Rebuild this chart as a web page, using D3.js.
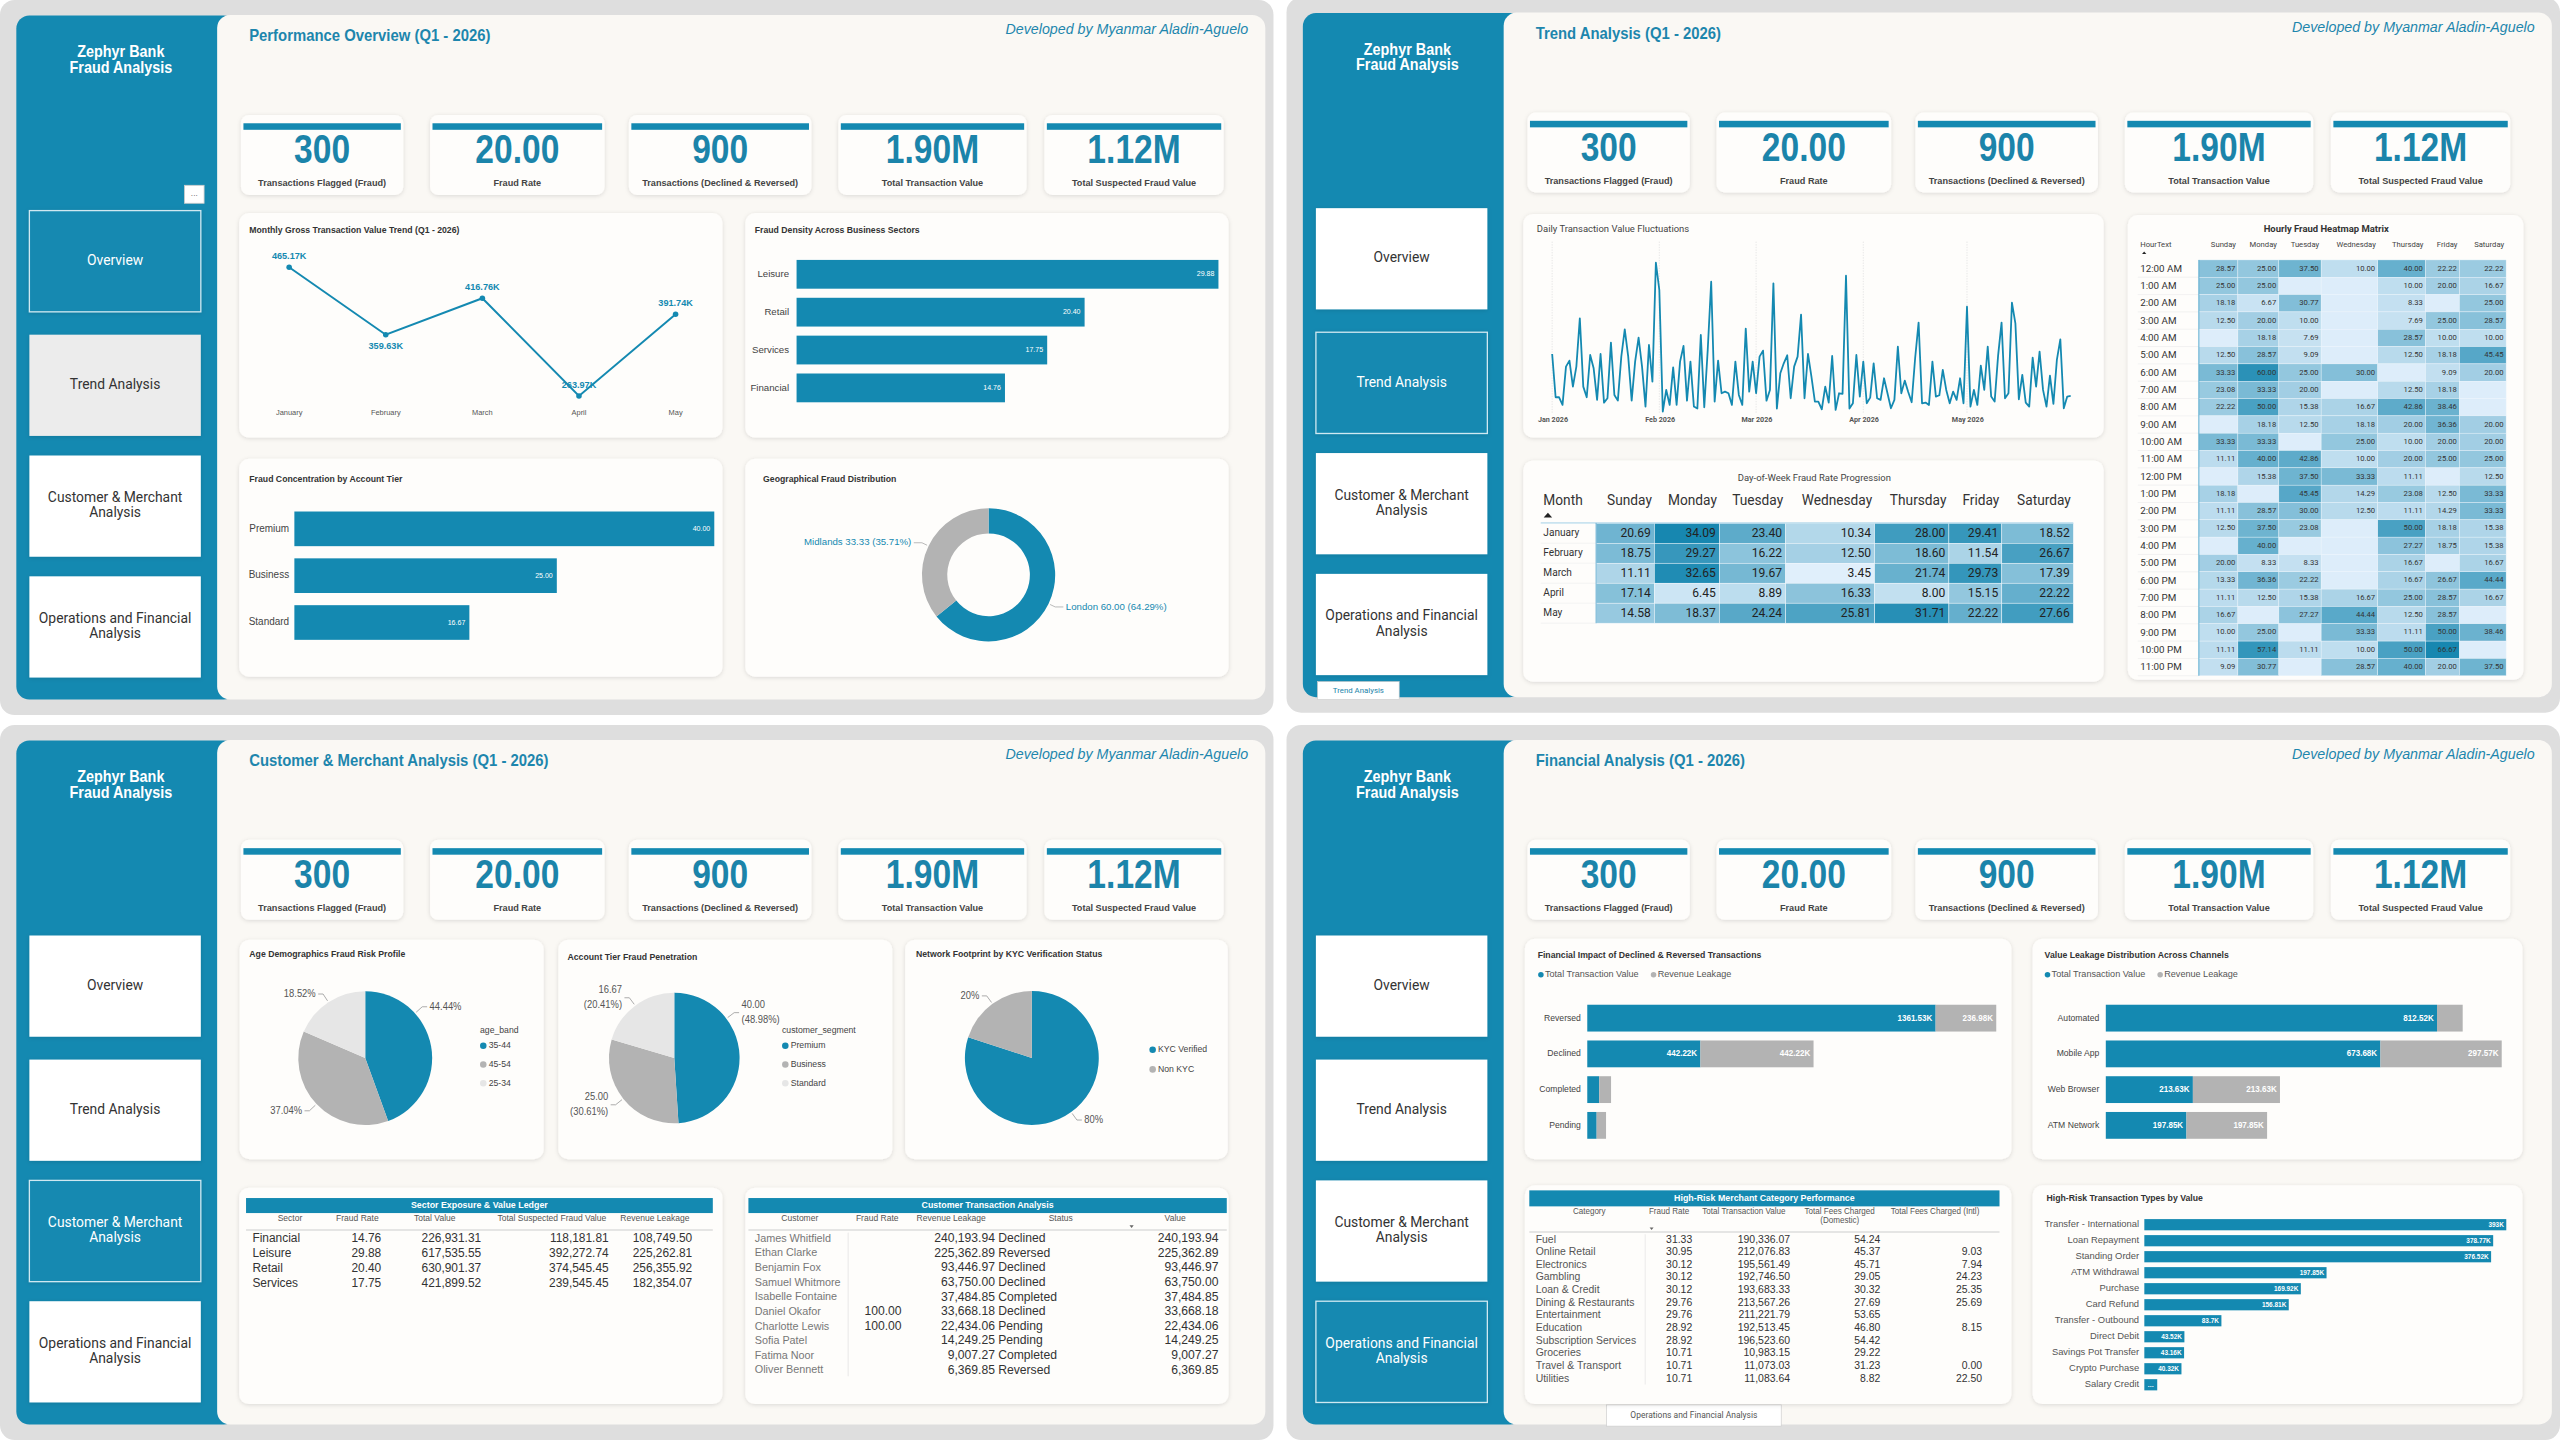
<!DOCTYPE html>
<html>
<head>
<meta charset="utf-8">
<script src="https://cdn.jsdelivr.net/npm/d3@7"></script>
<style>
  html, body { margin: 0; padding: 0; background: #ffffff; }
  svg { display: block; }
</style>
</head>
<body>
<script>
// ---------- data ----------
const kpiValues = ["300", "20.00", "900", "1.90M", "1.12M"];
const kpiLabels = ["Transactions Flagged (Fraud)", "Fraud Rate", "Transactions (Declined & Reversed)", "Total Transaction Value", "Total Suspected Fraud Value"];
const navItems = [["Overview"], ["Trend Analysis"], ["Customer & Merchant", "Analysis"], ["Operations and Financial", "Analysis"]];

const months = ["January", "February", "March", "April", "May"];
const monthlyValue = [465.17, 359.63, 416.76, 263.97, 391.74];

const sectors = ["Leisure", "Retail", "Services", "Financial"];
const sectorFraudRate = [29.88, 20.40, 17.75, 14.76];

const tiers = ["Premium", "Business", "Standard"];
const tierFraudRate = [40.00, 25.00, 16.67];

const regions = ["London", "Midlands"];
const regionFraudRate = [60.00, 33.33];

// daily transaction value (K), 1 Jan - 31 May 2026
const dailyValue = [
  20.8, 7.8, 7.8, 5.5, 17, 18.8, 11, 17, 31.5, 11,
  7.8, 20.5, 16.5, 7, 20.8, 6.2, 7.5, 24.2, 8.5, 6.8,
  20, 28.2, 20, 6.8, 18.5, 25.7, 17, 5, 23.5, 12.5,
  48.2, 40, 3.5, 10, 5.5, 16.8, 5.5, 18.5, 23.2, 6.8,
  18.5, 5, 4.4, 26.5, 4.8, 22, 42.5, 6.5, 18.8, 9,
  9.5, 9, 5.5, 18.5, 8.5, 5.5, 28.4, 9.5, 18.5, 9,
  20, 21.8, 6.8, 10, 42, 4.4, 15, 18, 20.4, 7.5,
  17, 20, 32.6, 7.5, 20.8, 14, 6.5, 6.5, 4.2, 11,
  6.2, 20.2, 4, 9, 8.8, 44.3, 4.4, 6, 20.5, 8,
  18.5, 6, 7.7, 18, 7.5, 7, 13.5, 9, 4.5, 7,
  23, 9, 12.8, 9.4, 6.3, 19.5, 30.2, 6, 6.2, 5.5,
  18.5, 8, 8.4, 16, 10, 6, 9.5, 7, 13.5, 6,
  35, 5, 10, 5.5, 17.3, 10, 23, 8, 6.5, 20.3,
  30.2, 7.5, 9, 36.2, 30, 7.2, 14.5, 6.2, 5, 19.7,
  11, 21.5, 10, 5, 14.3, 5.8, 19, 25.2, 4.5, 8,
  8.2
];

const weekdays = ["Sunday", "Monday", "Tuesday", "Wednesday", "Thursday", "Friday", "Saturday"];
const dowRates = [
  [20.69, 34.09, 23.40, 10.34, 28.00, 29.41, 18.52],
  [18.75, 29.27, 16.22, 12.50, 18.60, 11.54, 26.67],
  [11.11, 32.65, 19.67, 3.45, 21.74, 29.73, 17.39],
  [17.14, 6.45, 8.89, 16.33, 8.00, 15.15, 22.22],
  [14.58, 18.37, 24.24, 25.81, 31.71, 22.22, 27.66]
];

const hours = ["12:00 AM", "1:00 AM", "2:00 AM", "3:00 AM", "4:00 AM", "5:00 AM", "6:00 AM", "7:00 AM", "8:00 AM", "9:00 AM", "10:00 AM", "11:00 AM",
  "12:00 PM", "1:00 PM", "2:00 PM", "3:00 PM", "4:00 PM", "5:00 PM", "6:00 PM", "7:00 PM", "8:00 PM", "9:00 PM", "10:00 PM", "11:00 PM"];
const hourlyRates = [
  [28.57, 25.00, 37.50, 10.00, 40.00, 22.22, 22.22],
  [25.00, 25.00, null, null, 10.00, 20.00, 16.67],
  [18.18, 6.67, 30.77, null, 8.33, null, 25.00],
  [12.50, 20.00, 10.00, null, 7.69, 25.00, 28.57],
  [null, 18.18, 7.69, null, 28.57, 10.00, 10.00],
  [12.50, 28.57, 9.09, null, 12.50, 18.18, 45.45],
  [33.33, 60.00, 25.00, 30.00, null, 9.09, 20.00],
  [23.08, 33.33, 20.00, null, 12.50, 18.18, null],
  [22.22, 50.00, 15.38, 16.67, 42.86, 38.46, null],
  [null, 18.18, 12.50, 18.18, 20.00, 36.36, 20.00],
  [33.33, 33.33, null, 25.00, 10.00, 20.00, 20.00],
  [11.11, 40.00, 42.86, 10.00, 20.00, 25.00, 25.00],
  [null, 15.38, 37.50, 33.33, 11.11, null, 12.50],
  [18.18, null, 45.45, 14.29, 23.08, 12.50, 33.33],
  [11.11, 28.57, 30.00, 12.50, 11.11, 14.29, 33.33],
  [12.50, 37.50, 23.08, null, 50.00, 18.18, 15.38],
  [null, 40.00, null, null, 27.27, 18.75, 15.38],
  [20.00, 8.33, 8.33, null, 16.67, null, 16.67],
  [13.33, 36.36, 22.22, null, 16.67, 26.67, 44.44],
  [11.11, 12.50, 15.38, 16.67, 25.00, 28.57, 16.67],
  [16.67, null, 27.27, 44.44, 12.50, 28.57, null],
  [10.00, 25.00, null, 33.33, 11.11, 50.00, 38.46],
  [11.11, 57.14, 11.11, 10.00, 50.00, 66.67, null],
  [9.09, 30.77, null, 28.57, 40.00, 20.00, 37.50]
];

const ageBands = ["35-44", "45-54", "25-34"];
const agePct = [44.44, 37.04, 18.52];
const segments = ["Premium", "Business", "Standard"];
const segmentRate = [40.00, 25.00, 16.67];
const segmentPct = [48.98, 30.61, 20.41];
const kycStatus = ["KYC Verified", "Non KYC"];
const kycPct = [80, 20];

const ledgerSector = ["Financial", "Leisure", "Retail", "Services"];
const ledgerFraudRate = [14.76, 29.88, 20.40, 17.75];
const ledgerTotalValue = [226931.31, 617535.55, 630901.37, 421899.52];
const ledgerSuspected = [118181.81, 392272.74, 374545.45, 239545.45];
const ledgerLeakage = [108749.50, 225262.81, 256355.92, 182354.07];

const customerNames = ["James Whitfield", "Ethan Clarke", "Benjamin Fox", "Samuel Whitmore", "Isabelle Fontaine", "Daniel Okafor", "Charlotte Lewis", "Sofia Patel", "Fatima Noor", "Oliver Bennett"];
const customerFraudRate = [null, null, null, null, null, 100.00, 100.00, null, null, null];
const customerLeakage = [240193.94, 225362.89, 93446.97, 63750.00, 37484.85, 33668.18, 22434.06, 14249.25, 9007.27, 6369.85];
const customerStatus = ["Declined", "Reversed", "Declined", "Declined", "Completed", "Declined", "Pending", "Pending", "Completed", "Reversed"];
const customerValue = [240193.94, 225362.89, 93446.97, 63750.00, 37484.85, 33668.18, 22434.06, 14249.25, 9007.27, 6369.85];

const txnStatus = ["Reversed", "Declined", "Completed", "Pending"];
const statusTotalValue = [1361.53, 442.22, 46.49, 36.68];
const statusLeakage = [236.98, 442.22, 46.49, 36.68];

const channels = ["Automated", "Mobile App", "Web Browser", "ATM Network"];
const channelTotalValue = [812.52, 673.68, 213.63, 197.85];
const channelLeakage = [63.0, 297.57, 213.63, 197.85];

const merchantCategory = ["Fuel", "Online Retail", "Electronics", "Gambling", "Loan & Credit", "Dining & Restaurants", "Entertainment", "Education", "Subscription Services", "Groceries", "Travel & Transport", "Utilities"];
const merchantFraudRate = [31.33, 30.95, 30.12, 30.12, 30.12, 29.76, 29.76, 28.92, 28.92, 10.71, 10.71, 10.71];
const merchantTotalValue = [190336.07, 212076.83, 195561.49, 192746.50, 193683.33, 213567.26, 211221.79, 192513.45, 196523.60, 10983.15, 11073.03, 11083.64];
const merchantFeeDomestic = [54.24, 45.37, 45.71, 29.05, 30.32, 27.69, 53.65, 46.80, 54.42, 29.22, 31.23, 8.82];
const merchantFeeIntl = [null, 9.03, 7.94, 24.23, 25.35, 25.69, null, 8.15, null, null, 0.00, 22.50];

const txnTypes = ["Transfer - International", "Loan Repayment", "Standing Order", "ATM Withdrawal", "Purchase", "Card Refund", "Transfer - Outbound", "Direct Debit", "Savings Pot Transfer", "Crypto Purchase", "Salary Credit"];
const txnTypeValue = [393, 378.77, 376.52, 197.85, 169.92, 156.81, 83.7, 43.52, 43.16, 40.32, 14];

// ---------- setup ----------
const BLUE = "#1489b1", GREY = "#b3b3b3", LIGHT = "#e6e6e6", TITLEBLUE = "#1d86ad";
const NARROW = "'Liberation Sans',Arial,sans-serif";
const DIN = "Roboto,'Noto Sans',sans-serif";

const svg = d3.select("body").append("svg")
  .attr("width", 2560).attr("height", 1440)
  .attr("viewBox", "0 0 1568 882");

const defs = svg.append("defs");
defs.append("filter").attr("id", "shadow")
  .attr("x", "-10%").attr("y", "-10%").attr("width", "120%").attr("height", "130%")
  .append("feDropShadow")
  .attr("dx", 0).attr("dy", 0.6).attr("stdDeviation", 1.2)
  .attr("flood-color", "#000").attr("flood-opacity", 0.13);

// text helper; o.sx squeezes the glyphs horizontally (condensed look)
function txt(g, x, y, s, o = {}) {
  const t = g.append("text").text(s)
    .attr("font-family", o.font || NARROW)
    .attr("font-size", o.size || 5)
    .attr("font-weight", o.weight || "normal")
    .attr("font-style", o.style || "normal")
    .attr("fill", o.fill || "#333")
    .attr("text-anchor", o.anchor || "start")
    .attr("dominant-baseline", o.base || "middle");
  if (o.sx) t.attr("x", 0).attr("y", 0).attr("transform", `translate(${x},${y}) scale(${o.sx},1)`);
  else t.attr("x", x).attr("y", y);
  return t;
}

function card(x, y, w, h) {
  svg.append("rect").attr("x", x).attr("y", y).attr("width", w).attr("height", h)
    .attr("rx", 6).attr("fill", "#fefdfb").attr("filter", "url(#shadow)");
}

const fmt2 = d3.format(".2f");
const fmtNum = d3.format(",.2f");
const fmtK = d => (+d.toFixed(2)) + "K";

// ---------- panel frames ----------
const panels = [
  { ox: 0, oy: 0, title: "Performance Overview (Q1 - 2026)", sel: 0, hover: 1 },
  { ox: 788, oy: -1.5, title: "Trend Analysis (Q1 - 2026)", sel: 1, hover: -1 },
  { ox: 0, oy: 444, title: "Customer & Merchant Analysis (Q1 - 2026)", sel: 2, hover: -1 },
  { ox: 788, oy: 444, title: "Financial Analysis (Q1 - 2026)", sel: 3, hover: -1 }
];
const kpiX = [147.6, 263.4, 385.2, 513.5, 639.7];
const kpiW = [99.4, 106.9, 111.8, 115.3, 109.8];
const navY = [129, 205, 279, 353];

panels.forEach(p => {
  const g = svg.append("g").attr("transform", `translate(${p.ox},${p.oy})`);
  g.append("rect").attr("x", 0).attr("y", 0).attr("width", 780).attr("height", 438).attr("rx", 9).attr("fill", "#dedede");
  g.append("rect").attr("x", 10).attr("y", 9.5).attr("width", 135).attr("height", 419).attr("rx", 8).attr("fill", BLUE);
  g.append("rect").attr("x", 133).attr("y", 9.2).attr("width", 642).attr("height", 419.3).attr("rx", 8).attr("fill", "#faf8f4");

  txt(g, 74, 32.3, "Zephyr Bank", { size: 9.8, weight: "bold", fill: "#fff", anchor: "middle", sx: 0.9 });
  txt(g, 74, 42, "Fraud Analysis", { size: 9.8, weight: "bold", fill: "#fff", anchor: "middle", sx: 0.9 });

  navItems.forEach((lines, i) => {
    const sel = i === p.sel, hov = i === p.hover;
    g.append("rect").attr("x", 18).attr("y", navY[i]).attr("width", 105).attr("height", 62)
      .attr("fill", sel ? BLUE : (hov ? "#ececec" : "#ffffff"))
      .attr("stroke", sel ? "#cfe8f1" : "none").attr("stroke-width", 0.8)
      .attr("filter", "url(#shadow)");
    lines.forEach((l, k) => {
      txt(g, 70.5, navY[i] + 31 + (k - (lines.length - 1) / 2) * 9.4, l,
        { size: 8.5, font: DIN, fill: sel ? "#fff" : "#333", anchor: "middle" });
    });
  });

  txt(g, 152.6, 22.5, p.title, { size: 9.8, weight: "bold", fill: TITLEBLUE, sx: 0.93 });
  txt(g, 764.5, 18.5, "Developed by Myanmar Aladin-Aguelo", { size: 9.4, style: "italic", fill: TITLEBLUE, anchor: "end", sx: 0.93 });

  kpiValues.forEach((v, i) => {
    g.append("rect").attr("x", kpiX[i]).attr("y", 70.4).attr("width", kpiW[i]).attr("height", 49)
      .attr("rx", 5).attr("fill", "#fefdfb").attr("filter", "url(#shadow)");
    g.append("rect").attr("x", kpiX[i] + 1.5).attr("y", 75.5).attr("width", kpiW[i] - 3).attr("height", 4).attr("fill", BLUE);
    txt(g, kpiX[i] + kpiW[i] / 2, 93.5, v, { size: 24.5, weight: "bold", fill: "#1b84aa", anchor: "middle", sx: 0.84 });
    txt(g, kpiX[i] + kpiW[i] / 2, 112.5, kpiLabels[i], { size: 6.1, weight: "bold", fill: "#444", anchor: "middle", sx: 0.92 });
  });
});

// small decorations: more-options box and hover tooltips
svg.append("rect").attr("x", 113).attr("y", 113.5).attr("width", 12).attr("height", 11).attr("fill", "#fff").attr("stroke", "#ccc").attr("stroke-width", 0.5);
txt(svg, 119, 118.5, "...", { size: 5, fill: "#777", anchor: "middle" });
svg.append("rect").attr("x", 807).attr("y", 417.5).attr("width", 50).attr("height", 11).attr("fill", "#fff").attr("stroke", "#ccc").attr("stroke-width", 0.4);
txt(svg, 832, 423, "Trend Analysis", { size: 4.8, font: DIN, fill: "#1b84aa", anchor: "middle" });
svg.append("rect").attr("x", 984).attr("y", 860.5).attr("width", 107).attr("height", 13).attr("fill", "#fff").attr("stroke", "#ccc").attr("stroke-width", 0.4);
txt(svg, 1037.5, 867, "Operations and Financial Analysis", { size: 5.2, font: DIN, fill: "#555", anchor: "middle" });

// ================= Performance Overview =================
// monthly trend line
card(146.5, 130.5, 296, 137.5);
txt(svg, 152.7, 141.3, "Monthly Gross Transaction Value Trend (Q1 - 2026)", { size: 5.8, weight: "bold", sx: 0.92 });
const xM = d3.scalePoint().domain(months).range([177.1, 413.8]);
const yM = d3.scaleLinear().domain(d3.extent(monthlyValue)).range([242.5, 163.7]);
svg.append("path").datum(monthlyValue)
  .attr("d", d3.line().x((d, i) => xM(months[i])).y(d => yM(d)))
  .attr("fill", "none").attr("stroke", BLUE).attr("stroke-width", 1.2);
svg.selectAll("circle.mdot").data(monthlyValue).join("circle")
  .attr("cx", (d, i) => xM(months[i])).attr("cy", d => yM(d)).attr("r", 1.7).attr("fill", BLUE);
monthlyValue.forEach((d, i) => {
  // February's label sits under its point, the rest above
  const below = i === 1;
  txt(svg, xM(months[i]), yM(d) + (below ? 7.2 : -6.6), fmtK(d), { size: 5.9, weight: "bold", fill: BLUE, anchor: "middle", sx: 0.95 });
  txt(svg, xM(months[i]), 252.8, months[i], { size: 4.8, fill: "#555", anchor: "middle", sx: 0.95 });
});

// sector bars
card(456.5, 130.5, 296, 137.5);
txt(svg, 462.3, 141.3, "Fraud Density Across Business Sectors", { size: 5.8, weight: "bold", sx: 0.92 });
const yS = d3.scaleBand().domain(sectors).range([159.2, 246.4]).paddingInner(0.24);
const xS = d3.scaleLinear().domain([0, d3.max(sectorFraudRate)]).range([487.9, 746.3]);
sectors.forEach((s, i) => {
  svg.append("rect").attr("x", xS(0)).attr("y", yS(s)).attr("width", xS(sectorFraudRate[i]) - xS(0)).attr("height", yS.bandwidth()).attr("fill", BLUE);
  txt(svg, 483.3, yS(s) + yS.bandwidth() / 2, s, { size: 6.1, fill: "#444", anchor: "end", sx: 0.97 });
  txt(svg, xS(sectorFraudRate[i]) - 2.5, yS(s) + yS.bandwidth() / 2, fmt2(sectorFraudRate[i]), { size: 4.9, fill: "#fff", anchor: "end", sx: 0.88 });
});

// account tier bars
card(146.5, 281, 296, 133.5);
txt(svg, 152.7, 293.5, "Fraud Concentration by Account Tier", { size: 5.8, weight: "bold", sx: 0.92 });
const yT = d3.scaleBand().domain(tiers).range([313.3, 391.9]).paddingInner(0.26);
const xT = d3.scaleLinear().domain([0, d3.max(tierFraudRate)]).range([180.3, 437.5]);
tiers.forEach((s, i) => {
  svg.append("rect").attr("x", xT(0)).attr("y", yT(s)).attr("width", xT(tierFraudRate[i]) - xT(0)).attr("height", yT.bandwidth()).attr("fill", BLUE);
  txt(svg, 177.1, yT(s) + yT.bandwidth() / 2, s, { size: 6.3, fill: "#444", anchor: "end", sx: 0.97 });
  txt(svg, xT(tierFraudRate[i]) - 2.5, yT(s) + yT.bandwidth() / 2, fmt2(tierFraudRate[i]), { size: 4.9, fill: "#fff", anchor: "end", sx: 0.88 });
});

// geographic donut
card(456.5, 281, 296, 133.5);
txt(svg, 467.4, 293.5, "Geographical Fraud Distribution", { size: 5.8, weight: "bold", sx: 0.92 });
{
  const cx = 605.5, cy = 352.1, r = 40.8;
  const arcs = d3.pie().sort(null)(regionFraudRate);
  const total = d3.sum(regionFraudRate);
  svg.append("g").attr("transform", `translate(${cx},${cy})`)
    .selectAll("path").data(arcs).join("path")
    .attr("d", d3.arc().innerRadius(25.3).outerRadius(r))
    .attr("fill", (d, i) => i === 0 ? BLUE : GREY);
  arcs.forEach((a, i) => {
    const ang = (a.startAngle + a.endAngle) / 2;
    const sx = Math.sin(ang), sy = -Math.cos(ang);
    const right = sx >= 0;
    const p1 = [cx + sx * (r + 1), cy + sy * (r + 1)];
    const p2 = [cx + sx * (r + 4.5), cy + sy * (r + 4.5)];
    const p3 = [p2[0] + (right ? 5 : -5), p2[1]];
    svg.append("polyline").attr("points", [p1, p2, p3].join(" ")).attr("fill", "none").attr("stroke", "#aaa").attr("stroke-width", 0.5);
    txt(svg, p3[0] + (right ? 1.5 : -1.5), p3[1], `${regions[i]} ${fmt2(regionFraudRate[i])} (${fmt2(regionFraudRate[i] / total * 100)}%)`,
      { size: 6.1, fill: BLUE, anchor: right ? "start" : "end", sx: 0.97 });
  });
}

// ================= Trend Analysis =================
card(933, 131, 355.5, 137);
txt(svg, 941.3, 140.8, "Daily Transaction Value Fluctuations", { size: 5.8, font: DIN, fill: "#444" });
{
  const start = new Date(2026, 0, 1);
  const dates = dailyValue.map((d, i) => d3.timeDay.offset(start, i));
  const xD = d3.scaleTime().domain(d3.extent(dates)).range([950.7, 1268.3]);
  const yD = d3.scaleLinear().domain(d3.extent(dailyValue)).range([252.1, 160.9]);
  const ticks = d3.timeMonth.range(start, d3.timeDay.offset(dates[dates.length - 1], 1));
  svg.selectAll("line.dgrid").data(ticks).join("line")
    .attr("x1", d => xD(d)).attr("x2", d => xD(d)).attr("y1", 148).attr("y2", 253)
    .attr("stroke", "#e2e2e2").attr("stroke-width", 0.5).attr("stroke-dasharray", "0.8,0.8");
  svg.append("path").datum(dailyValue)
    .attr("d", d3.line().x((d, i) => xD(dates[i])).y(d => yD(d)))
    .attr("fill", "none").attr("stroke", BLUE).attr("stroke-width", 1.1).attr("stroke-linejoin", "round");
  const ax = svg.append("g").attr("transform", "translate(0,253)")
    .call(d3.axisBottom(xD).tickValues(ticks).tickFormat(d3.timeFormat("%b %Y")).tickSize(0).tickPadding(2.6));
  ax.select(".domain").remove();
  ax.selectAll("text").attr("font-family", DIN).attr("font-size", 4.4).attr("fill", "#555").attr("font-weight", "bold");
}

// day-of-week matrix
card(933, 282, 355.5, 135.5);
txt(svg, 1111.3, 293.3, "Day-of-Week Fraud Rate Progression", { size: 5.8, font: DIN, fill: "#444", anchor: "middle" });
{
  const edges = [977.6, 1013.3, 1053.1, 1093.7, 1148.2, 1193.7, 1226.1, 1269.9];
  const yR = d3.scaleBand().domain(months).range([320.5, 381.7]);
  const all = dowRates.flat();
  const col = d3.scaleLinear().domain(d3.extent(all)).range(["#e0effb", "#1787b0"]);
  txt(svg, 945.3, 307, "Month", { size: 8.4, font: DIN, fill: "#333" });
  svg.append("path").attr("d", "M945.5,317 l2.6,-3 l2.6,3 z").attr("fill", "#222");
  weekdays.forEach((w, j) => txt(svg, edges[j + 1] - 1.5, 307, w, { size: 8.4, font: DIN, fill: "#333", anchor: "end" }));
  months.forEach((m, i) => {
    txt(svg, 945.3, yR(m) + yR.bandwidth() / 2, m, { size: 6.2, font: DIN, fill: "#333" });
    svg.append("line").attr("x1", 943.7).attr("x2", 977.6).attr("y1", yR(m) + yR.bandwidth()).attr("y2", yR(m) + yR.bandwidth()).attr("stroke", "#eee").attr("stroke-width", 0.4);
    dowRates[i].forEach((v, j) => {
      svg.append("rect").attr("x", edges[j]).attr("y", yR(m)).attr("width", edges[j + 1] - edges[j]).attr("height", yR.bandwidth())
        .attr("fill", col(v)).attr("stroke", "#f4f9fd").attr("stroke-width", 0.3);
      txt(svg, edges[j + 1] - 2.2, yR(m) + yR.bandwidth() / 2 + 0.3, fmt2(v), { size: 7.4, font: DIN, fill: "#222", anchor: "end" });
    });
  });
  svg.append("line").attr("x1", 943.7).attr("x2", 1269.9).attr("y1", 320.3).attr("y2", 320.3).attr("stroke", "#9fcfe6").attr("stroke-width", 0.6);
  svg.append("line").attr("x1", 977.6).attr("x2", 977.6).attr("y1", 320.3).attr("y2", 381.7).attr("stroke", "#5aa9cf").attr("stroke-width", 0.5);
}

// hourly heatmap
card(1303.3, 131.7, 242.3, 284.7);
txt(svg, 1424.8, 140.8, "Hourly Fraud Heatmap Matrix", { size: 5.8, font: DIN, weight: "bold", fill: "#333", anchor: "middle" });
{
  const edges = [1346.8, 1370.7, 1395.8, 1421.7, 1456.4, 1485.6, 1506.4, 1535];
  const yH = d3.scaleBand().domain(hours).range([159.2, 413.9]);
  const all = hourlyRates.flat().filter(v => v !== null);
  const col = d3.scaleLinear().domain([0, d3.max(all)]).range(["#ddedfa", "#1787b0"]);
  txt(svg, 1310.9, 150.3, "HourText", { size: 4.7, font: DIN, fill: "#444" });
  svg.append("path").attr("d", "M1312,155.6 l1.3,-1.6 l1.3,1.6 z").attr("fill", "#222");
  weekdays.forEach((w, j) => txt(svg, edges[j + 1] - 1.2, 150.3, w, { size: 4.7, font: DIN, fill: "#444", anchor: "end" }));
  hours.forEach((h, i) => {
    const y0 = yH(h), bh = yH.bandwidth();
    txt(svg, 1310.9, y0 + bh / 2 + 0.4, h, { size: 6, font: DIN, fill: "#333" });
    svg.append("line").attr("x1", 1309.4).attr("x2", 1346.8).attr("y1", y0 + bh).attr("y2", y0 + bh).attr("stroke", "#ececec").attr("stroke-width", 0.4);
    hourlyRates[i].forEach((v, j) => {
      svg.append("rect").attr("x", edges[j]).attr("y", y0).attr("width", edges[j + 1] - edges[j]).attr("height", bh)
        .attr("fill", col(v === null ? 0 : v)).attr("stroke", "#eef6fc").attr("stroke-width", 0.25);
      if (v !== null) txt(svg, edges[j + 1] - 1.6, y0 + bh / 2, fmt2(v), { size: 4.7, font: DIN, fill: "#333", anchor: "end" });
    });
  });
  svg.append("line").attr("x1", 1346.8).attr("x2", 1346.8).attr("y1", 159.2).attr("y2", 413.9).attr("stroke", "#3d9cc6").attr("stroke-width", 0.5);
}

// ================= Customer & Merchant =================
function drawPie(cx, cy, r, values, colors, labels) {
  const arcs = d3.pie().sort(null)(values);
  svg.append("g").attr("transform", `translate(${cx},${cy})`)
    .selectAll("path").data(arcs).join("path")
    .attr("d", d3.arc().innerRadius(0).outerRadius(r))
    .attr("fill", (d, i) => colors[i]);
  arcs.forEach((a, i) => {
    let ang = (a.startAngle + a.endAngle) / 2;
    // labels that would land beside the legend are pulled up towards the slice start
    if (Math.abs(ang - Math.PI / 2) < 0.35) ang = a.startAngle + 0.3 * (a.endAngle - a.startAngle);
    const sx = Math.sin(ang), sy = -Math.cos(ang);
    const right = sx >= 0;
    const p1 = [cx + sx * (r + 1), cy + sy * (r + 1)];
    const p2 = [cx + sx * (r + 6), cy + sy * (r + 6)];
    const p3 = [p2[0] + (right ? 3 : -3), p2[1]];
    svg.append("polyline").attr("points", [p1, p2, p3].join(" ")).attr("fill", "none").attr("stroke", "#999").attr("stroke-width", 0.5);
    const lines = labels[i];
    lines.forEach((l, k) => {
      txt(svg, p3[0] + (right ? 1.5 : -1.5), p3[1] + (k - (lines.length - 1) / 2) * 9, l,
        { size: 6.4, fill: "#555", anchor: right ? "start" : "end", sx: 0.9 });
    });
  });
}
function legend(x, y, title, names, colors, step) {
  if (title) txt(svg, x - 2, y, title, { size: 5.9, fill: "#444", sx: 0.9 });
  names.forEach((n, i) => {
    const yy = y + (title ? 9.5 : 0) + i * step;
    svg.append("circle").attr("cx", x).attr("cy", yy).attr("r", 2).attr("fill", colors[i]);
    txt(svg, x + 3.3, yy, n, { size: 5.9, fill: "#444", sx: 0.9 });
  });
}
const pieColors = [BLUE, GREY, LIGHT];

card(146.8, 575.6, 186.2, 134.4);
txt(svg, 152.7, 584.8, "Age Demographics Fraud Risk Profile", { size: 5.8, weight: "bold", sx: 0.92 });
drawPie(223.7, 648.1, 41, agePct, pieColors, agePct.map(d => [fmt2(d) + "%"]));
legend(296, 631, "age_band", ageBands, pieColors, 11.5);

card(342, 575.6, 204.5, 134.4);
txt(svg, 347.6, 586.5, "Account Tier Fraud Penetration", { size: 5.8, weight: "bold", sx: 0.92 });
drawPie(413, 648, 40, segmentRate, pieColors, segmentRate.map((d, i) => [fmt2(d), `(${fmt2(segmentPct[i])}%)`]));
legend(481, 631, "customer_segment", segments, pieColors, 11.5);

card(554.4, 575.6, 197.6, 134.4);
txt(svg, 561, 584.8, "Network Footprint by KYC Verification Status", { size: 5.8, weight: "bold", sx: 0.92 });
drawPie(632, 648, 41, kycPct, [BLUE, GREY], kycPct.map(d => [d + "%"]));
legend(706, 643, null, kycStatus, [BLUE, GREY], 12);

// sector ledger table
card(146.5, 727.5, 296, 132.5);
{
  svg.append("rect").attr("x", 150.7).attr("y", 733.8).attr("width", 285.9).attr("height", 9.2).attr("fill", BLUE);
  txt(svg, 293.6, 738.6, "Sector Exposure & Value Ledger", { size: 5.9, weight: "bold", fill: "#fff", anchor: "middle", sx: 0.92 });
  const cols = [
    { h: "Sector", hx: 177.6, x: 154.6, a: "start", v: ledgerSector },
    { h: "Fraud Rate", hx: 218.9, x: 233.5, a: "end", v: ledgerFraudRate.map(fmt2) },
    { h: "Total Value", hx: 266.3, x: 294.7, a: "end", v: ledgerTotalValue.map(fmtNum) },
    { h: "Total Suspected Fraud Value", hx: 338, x: 372.8, a: "end", v: ledgerSuspected.map(fmtNum) },
    { h: "Revenue Leakage", hx: 401.1, x: 424, a: "end", v: ledgerLeakage.map(fmtNum) }
  ];
  const yRow = d3.scaleLinear().domain([0, ledgerSector.length - 1]).range([758.9, 786.5]);
  cols.forEach(c => {
    txt(svg, c.hx, 746.5, c.h, { size: 5.5, fill: "#555", anchor: "middle", sx: 0.95 });
    c.v.forEach((v, i) => txt(svg, c.x, yRow(i), v, { size: 7.6, fill: "#333", anchor: c.a, sx: 0.96 }));
  });
  svg.append("line").attr("x1", 150.7).attr("x2", 436.6).attr("y1", 753.4).attr("y2", 753.4).attr("stroke", "#ddd").attr("stroke-width", 1);
}

// customer table
card(456.5, 727.5, 296, 132.5);
{
  svg.append("rect").attr("x", 458.4).attr("y", 733.8).attr("width", 293).attr("height", 9.2).attr("fill", BLUE);
  txt(svg, 604.9, 738.6, "Customer Transaction Analysis", { size: 5.9, weight: "bold", fill: "#fff", anchor: "middle", sx: 0.92 });
  const yRow = d3.scaleLinear().domain([0, customerNames.length - 1]).range([758.7, 839.4]);
  const heads = [["Customer", 489.9], ["Fraud Rate", 537.3], ["Revenue Leakage", 582.6], ["Status", 649.7], ["Value", 719.8]];
  heads.forEach(h => txt(svg, h[1], 746.5, h[0], { size: 5.5, fill: "#555", anchor: "middle", sx: 0.95 }));
  svg.append("path").attr("d", "M691.8,750.5 l2.6,0 l-1.3,1.6 z").attr("fill", "#666");
  svg.append("line").attr("x1", 458.4).attr("x2", 751.4).attr("y1", 753.4).attr("y2", 753.4).attr("stroke", "#ddd").attr("stroke-width", 1);
  svg.append("line").attr("x1", 519.5).attr("x2", 519.5).attr("y1", 755).attr("y2", 843).attr("stroke", "#e3e3e3").attr("stroke-width", 0.5);
  customerNames.forEach((n, i) => {
    const y = yRow(i);
    const o = { size: 7.6, fill: "#333", anchor: "end", sx: 0.98 };
    txt(svg, 462.3, y, n, { size: 6.9, fill: "#777", sx: 0.96 });
    if (customerFraudRate[i] !== null) txt(svg, 552.2, y, fmt2(customerFraudRate[i]), o);
    txt(svg, 609.4, y, fmtNum(customerLeakage[i]), o);
    txt(svg, 611.4, y, customerStatus[i], { size: 7.6, fill: "#333", sx: 0.98 });
    txt(svg, 746.3, y, fmtNum(customerValue[i]), o);
  });
}

// ================= Financial Analysis =================
function stackedBars(x0, x1, cats, total, leak, labelX) {
  const y = d3.scaleBand().domain(cats).range([615.4, 697.5]).paddingInner(0.25);
  const x = d3.scaleLinear().domain([0, d3.max(cats, (c, i) => total[i] + leak[i])]).range([x0, x1]);
  cats.forEach((c, i) => {
    const yy = y(c), bh = y.bandwidth();
    const segs = [[0, total[i], BLUE], [total[i], total[i] + leak[i], GREY]];
    segs.forEach((s, k) => {
      svg.append("rect").attr("x", x(s[0])).attr("y", yy).attr("width", x(s[1]) - x(s[0])).attr("height", bh).attr("fill", s[2]);
      const v = k === 0 ? total[i] : leak[i];
      if (x(s[1]) - x(s[0]) > 24) txt(svg, x(s[1]) - 2, yy + bh / 2, fmtK(v), { size: 5.6, weight: "bold", fill: "#fff", anchor: "end", sx: 0.88 });
    });
    txt(svg, labelX, yy + bh / 2, c, { size: 5.5, fill: "#444", anchor: "end", sx: 0.96 });
  });
}
function seriesLegend(x, y) {
  svg.append("circle").attr("cx", x).attr("cy", y).attr("r", 1.7).attr("fill", BLUE);
  txt(svg, x + 2.5, y, "Total Transaction Value", { size: 5.8, fill: "#555", sx: 0.96 });
  svg.append("circle").attr("cx", x + 69).attr("cy", y).attr("r", 1.7).attr("fill", GREY);
  txt(svg, x + 71.5, y, "Revenue  Leakage", { size: 5.8, fill: "#555", sx: 0.96 });
}

card(934, 575, 298, 135);
txt(svg, 941.8, 585.2, "Financial Impact of Declined & Reversed Transactions", { size: 5.8, weight: "bold", sx: 0.92 });
seriesLegend(943.8, 597);
stackedBars(972.2, 1222.7, txnStatus, statusTotalValue, statusLeakage, 968.3);

card(1245, 575, 300, 135);
txt(svg, 1252.3, 585.2, "Value Leakage Distribution Across Channels", { size: 5.8, weight: "bold", sx: 0.92 });
seriesLegend(1254.1, 597);
stackedBars(1289.8, 1532.3, channels, channelTotalValue, channelLeakage, 1285.8);

// merchant table
card(934, 726, 298, 134);
{
  svg.append("rect").attr("x", 936.7).attr("y", 729.1).attr("width", 288).attr("height", 9.8).attr("fill", BLUE);
  txt(svg, 1080.7, 734.2, "High-Risk Merchant Category Performance", { size: 5.9, weight: "bold", fill: "#fff", anchor: "middle", sx: 0.92 });
  const heads = [[["Category"], 973.4], [["Fraud Rate"], 1022.3], [["Total Transaction Value"], 1068.1], [["Total Fees Charged", "(Domestic)"], 1126.8], [["Total Fees Charged (Intl)"], 1185.2]];
  heads.forEach(h => h[0].forEach((l, k) => txt(svg, h[1], 742.4 + k * 5.6, l, { size: 5.2, fill: "#555", anchor: "middle", sx: 0.95 })));
  svg.append("path").attr("d", "M1010.4,751.8 l2.4,0 l-1.2,1.5 z").attr("fill", "#666");
  svg.append("line").attr("x1", 936.7).attr("x2", 1224.7).attr("y1", 754.6).attr("y2", 754.6).attr("stroke", "#ddd").attr("stroke-width", 1);
  svg.append("line").attr("x1", 1007.7).attr("x2", 1007.7).attr("y1", 756).attr("y2", 848).attr("stroke", "#e6e6e6").attr("stroke-width", 0.5);
  const yRow = d3.scaleLinear().domain([0, merchantCategory.length - 1]).range([759.3, 844.6]);
  merchantCategory.forEach((c, i) => {
    const y = yRow(i);
    const o = { size: 6.6, fill: "#333", anchor: "end", sx: 0.97 };
    txt(svg, 940.6, y, c, { size: 6.6, fill: "#555", sx: 0.97 });
    txt(svg, 1036.5, y, fmt2(merchantFraudRate[i]), o);
    txt(svg, 1096.4, y, fmtNum(merchantTotalValue[i]), o);
    txt(svg, 1151.7, y, fmt2(merchantFeeDomestic[i]), o);
    if (merchantFeeIntl[i] !== null) txt(svg, 1214, y, fmt2(merchantFeeIntl[i]), o);
  });
}

// high-risk transaction types
card(1245, 726, 300, 134);
txt(svg, 1253.5, 733.8, "High-Risk Transaction Types by Value", { size: 5.8, weight: "bold", sx: 0.92 });
{
  const y = d3.scaleBand().domain(txnTypes).range([746.7, 851.6]).paddingInner(0.3);
  const x = d3.scaleLinear().domain([0, d3.max(txnTypeValue)]).range([1313.4, 1535.1]);
  txnTypes.forEach((t, i) => {
    const yy = y(t), bh = y.bandwidth(), w = x(txnTypeValue[i]) - x(0);
    svg.append("rect").attr("x", x(0)).attr("y", yy).attr("width", w).attr("height", bh).attr("fill", BLUE);
    txt(svg, 1310.2, yy + bh / 2, t, { size: 6, fill: "#555", anchor: "end", sx: 0.96 });
    txt(svg, w > 14 ? x(txnTypeValue[i]) - 1.5 : x(0) + w / 2, yy + bh / 2, w > 14 ? fmtK(txnTypeValue[i]) : "…",
      { size: 4.6, weight: "bold", fill: "#fff", anchor: w > 14 ? "end" : "middle", sx: 0.86 });
  });
}
</script>
</body>
</html>
